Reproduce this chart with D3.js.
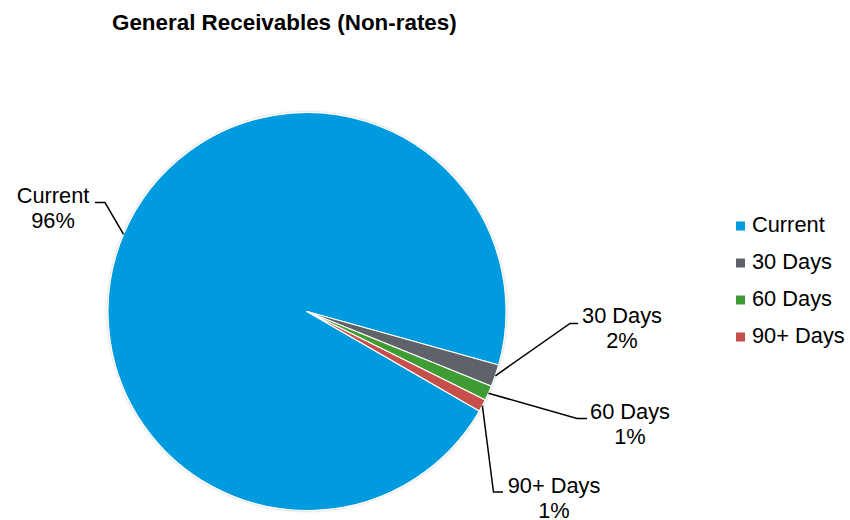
<!doctype html>
<html>
<head>
<meta charset="utf-8">
<style>
	body { margin: 0; background: #fff; }
	text { font-family: "Liberation Sans", Arial, sans-serif; fill: #000; }
</style>
</head>
<body>
	<div class="figure"></div>
	<script src="https://d3js.org/d3.v7.min.js"></script>
	<script>
		// data
		let categories = ["Current", "30 Days", "60 Days", "90+ Days"];
		let values = [96.0, 1.8, 1.2, 1.0];
		let percentLabels = ["96%", "2%", "1%", "1%"];
		let colors = ["#009BDE", "#5F6369", "#3F9C35", "#C64F4C"];

		let width = 850, height = 520;
		let svg = d3.select(".figure")
			.append("svg")
			.attr("width", width)
			.attr("height", height);

		let defs = svg.append("defs");
		let f = defs.append("filter").attr("id", "shadow")
			.attr("x", "-10%").attr("y", "-10%").attr("width", "120%").attr("height", "120%");
		f.append("feDropShadow").attr("dx", 0).attr("dy", 0)
			.attr("stdDeviation", 1.6).attr("flood-color", "#000").attr("flood-opacity", 0.35);

		svg.append("text")
			.attr("x", 112).attr("y", 30)
			.style("font-size", "22.4px").style("font-weight", "bold")
			.text("General Receivables (Non-rates)");

		let cx = 307, cy = 311.5, R = 199;
		let start = 120 * Math.PI / 180;

		let pie = d3.pie().sort(null).value(d => d.v)
			.startAngle(start).endAngle(start + 2 * Math.PI);
		let data = categories.map((c, i) => ({ c: c, v: values[i], p: percentLabels[i], col: colors[i] }));
		let arcs = pie(data);
		let arc = d3.arc().innerRadius(0).outerRadius(R);

		let g = svg.append("g").attr("transform", `translate(${cx},${cy})`);
		g.append("circle").attr("r", R).attr("fill", "#fff").attr("filter", "url(#shadow)");
		g.selectAll("path").data(arcs).enter().append("path")
			.attr("d", arc)
			.attr("fill", d => d.data.col)
			.attr("stroke", "#fff")
			.attr("stroke-width", 1.2)
			.attr("stroke-linejoin", "round");

		// label layout: elbow point, end of leader, text anchor (page coords)
		let labelLayout = {
			"Current": { elbow: [105, 202.5], end: [95, 202.5], tx: 53, ty: 203 },
			"30 Days": { elbow: [570, 323.5], end: [578, 323.5], tx: 622, ty: 323 },
			"60 Days": { elbow: [577, 418.5], end: [587, 418.5], tx: 630, ty: 419 },
			"90+ Days": { elbow: [493.5, 492], end: [503, 492], tx: 554, ty: 493 }
		};

		let lab = svg.append("g");
		arcs.forEach(d => {
			let L = labelLayout[d.data.c];
			let a = (d.startAngle + d.endAngle) / 2;
			let p0 = [cx + R * Math.sin(a), cy - R * Math.cos(a)];
			lab.append("polyline")
				.attr("points", [p0, L.elbow, L.end].map(p => p.join(",")).join(" "))
				.attr("fill", "none").attr("stroke", "#000").attr("stroke-width", 1.5);
			let t = lab.append("text")
				.attr("x", L.tx).attr("y", L.ty)
				.attr("text-anchor", "middle")
				.style("font-size", "21.8px");
			t.append("tspan").attr("x", L.tx).text(d.data.c);
			t.append("tspan").attr("x", L.tx).attr("dy", 24.5).text(d.data.p);
		});

		// legend
		let leg = svg.append("g").attr("transform", "translate(736,232)");
		let rows = leg.selectAll("g").data(data).enter().append("g")
			.attr("transform", (d, i) => `translate(0,${i * 37})`);
		rows.append("rect").attr("x", 0).attr("y", -10.5).attr("width", 9).attr("height", 9)
			.attr("fill", d => d.col);
		rows.append("text").attr("x", 16).attr("y", 0)
			.style("font-size", "21.8px").text(d => d.c);
	</script>
</body>
</html>
